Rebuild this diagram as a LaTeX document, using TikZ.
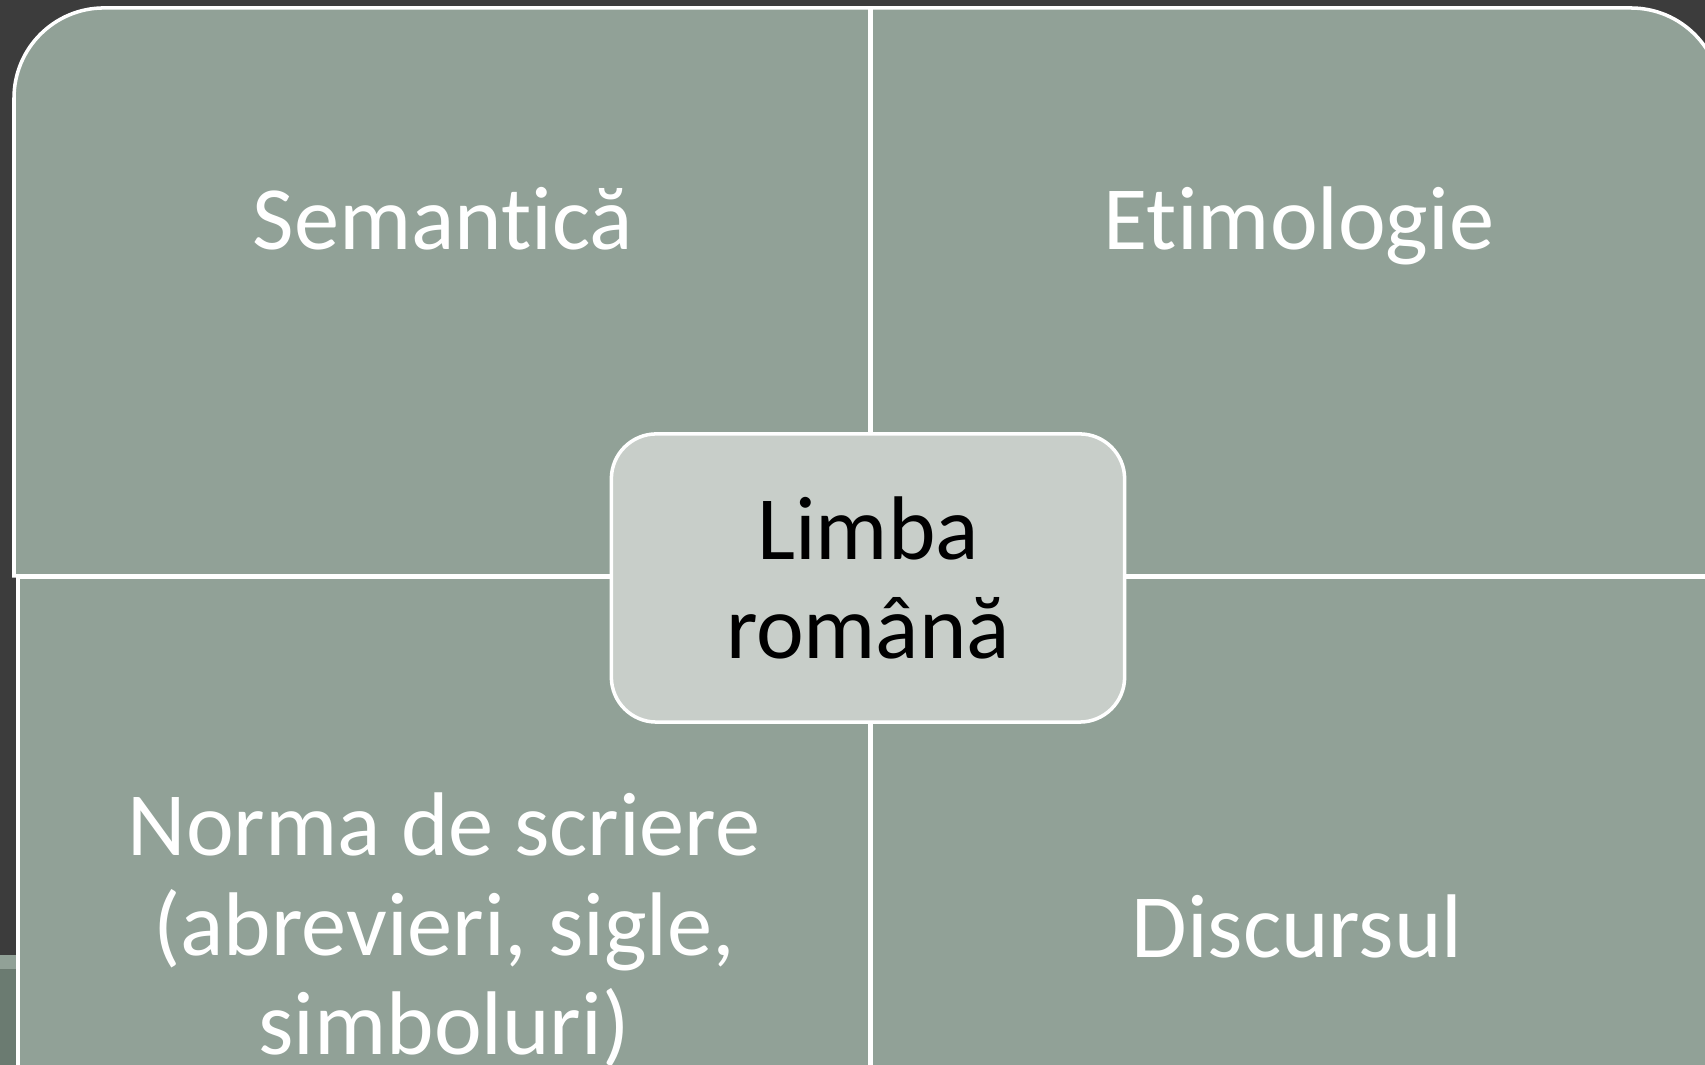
\documentclass[tikz,border=0pt]{standalone}
\usepackage{fontspec}
\setmainfont{Carlito}[Ligatures=NoCommon]
\usepackage{xcolor}
\usetikzlibrary{positioning}
\usetikzlibrary{calc}
\definecolor{slidebg}{HTML}{3C3C3C}
\definecolor{quadfill}{HTML}{91A197}
\definecolor{hubfill}{HTML}{C8CEC9}
\definecolor{stripdark}{HTML}{6B7B71}

\begin{document}
\begin{tikzpicture}[x=0.01cm,y=-0.01cm]
			\tikzstyle{quad}=[fill=quadfill,draw=white,line width=1pt]
			\tikzstyle{every node}=[font=\fontsize{25.7}{28.4}\selectfont,align=center,inner sep=0pt]
			\tikzstyle{quadtext}=[text=white,anchor=base]
			\tikzstyle{hub}=[fill=hubfill,draw=white,line width=1pt,rounded corners=0.45cm,minimum width=5.13cm,minimum height=2.88cm,text=black]
			
			\useasboundingbox (0,0) rectangle (1705,1065);
			\fill[slidebg] (0,0) rectangle (1705,1065);
			\fill[quadfill] (0,955) rectangle (17,969);
			\fill[stripdark] (0,969) rectangle (17,1065);
			\clip (0,0) rectangle (1705,1065);
			
			\draw[quad] (14,576) -- (14,98) arc[start angle=180,end angle=90,radius=0.9cm] -- (870,8) -- (870,576) -- cycle;
			\draw[quad] (871,576) -- (871,8) -- (1631,8) arc[start angle=90,end angle=0,radius=0.9cm] -- (1721,576) -- cycle;
			\draw[quad] (18,577) -- (870,577) -- (870,1160) -- (18,1160) -- cycle;
			\draw[quad] (871,577) -- (1721,577) -- (1721,1160) -- (871,1160) -- cycle;
			
			\node (sem) [quadtext] at (443,250) {Semantică};
			\node (etim) [quadtext] at (1299,250) {Etimologie};
			\node (norma) [quadtext] at (444,1055) {Norma de scriere\\(abrevieri, sigle,\\simboluri)};
			\node (disc) [quadtext] at (1297,958) {Discursul};
			
			\node (hub) [hub] at (868,578) {Limba\\română};
		\end{tikzpicture}
\end{document}
